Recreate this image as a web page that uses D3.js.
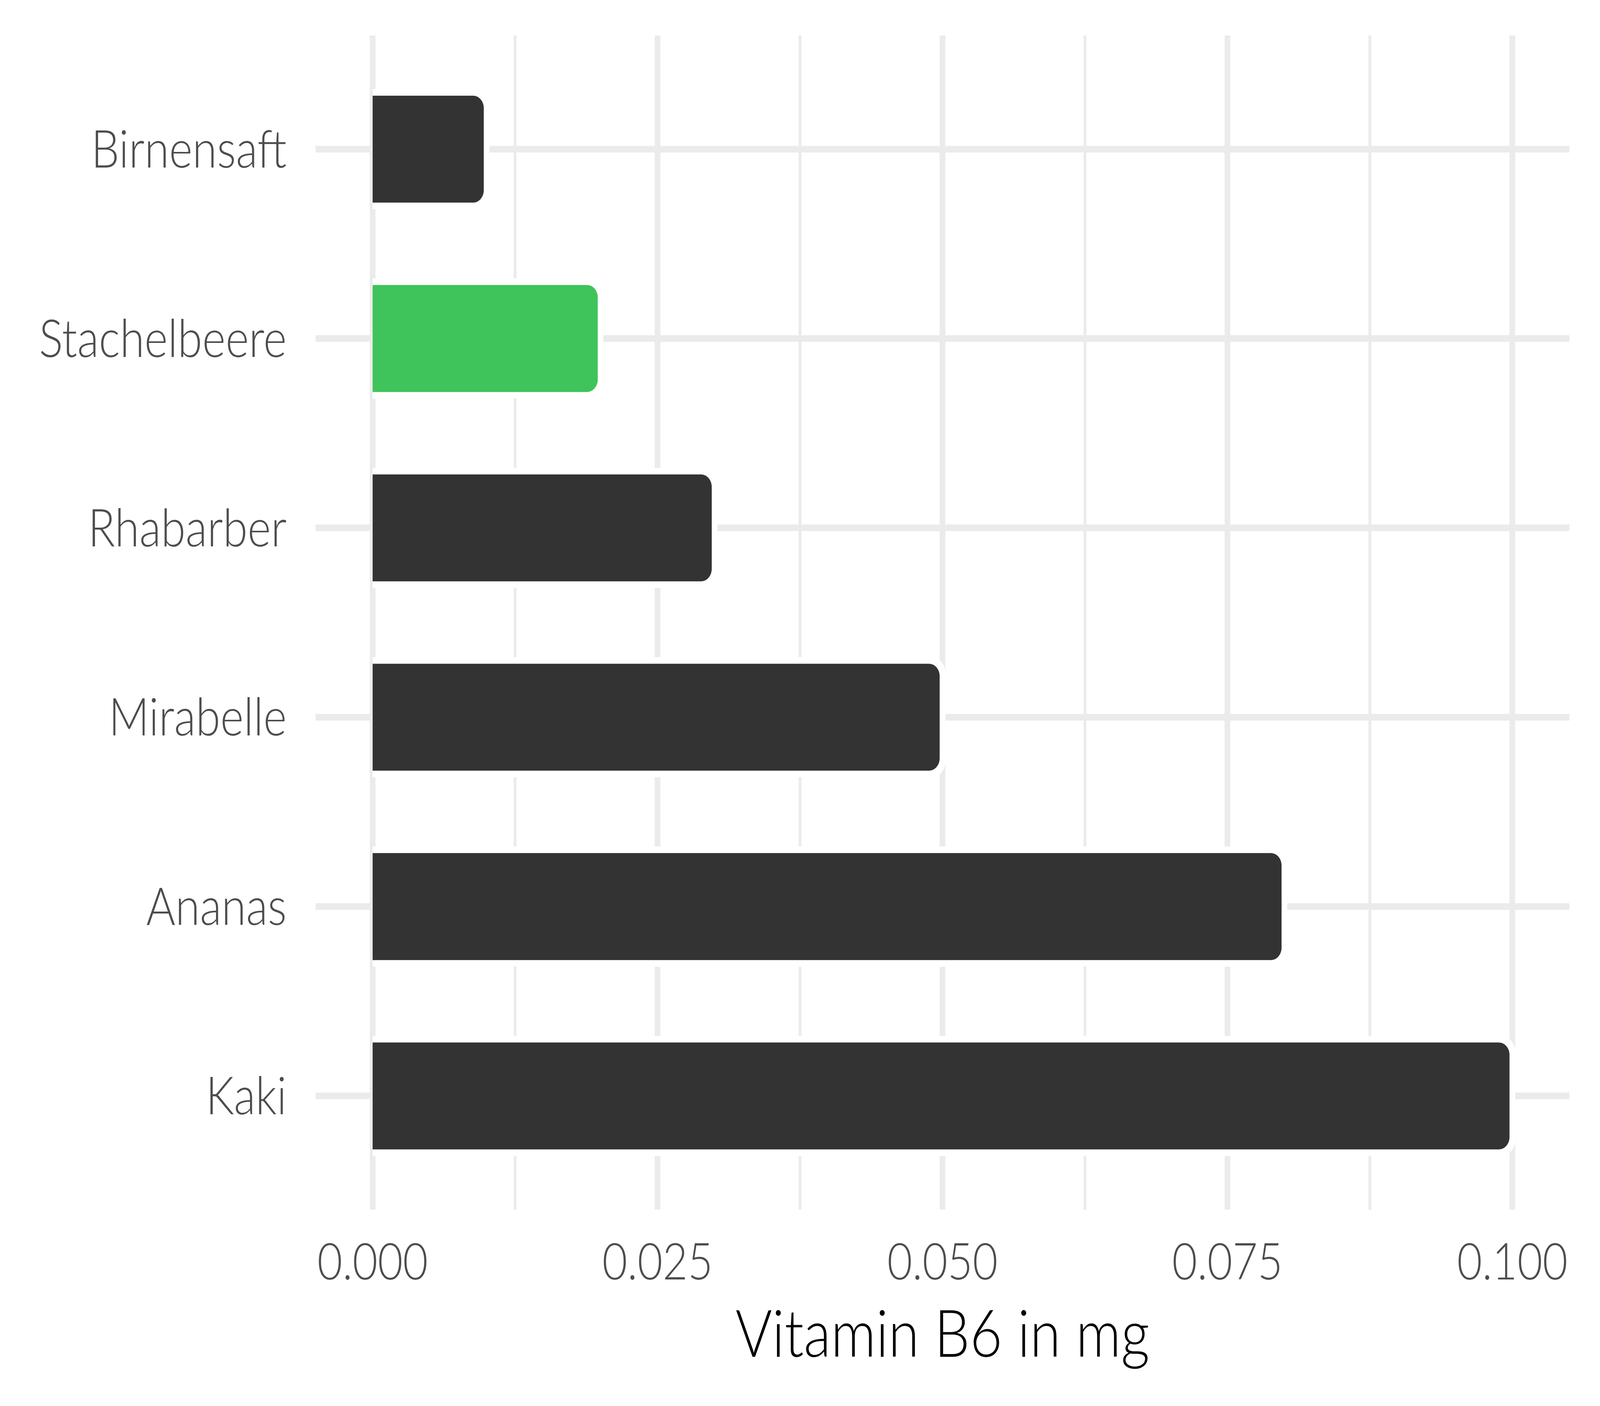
<!DOCTYPE html>
<html>
<head>
<meta charset="utf-8">
<script src="https://cdn.jsdelivr.net/npm/d3@7"></script>
<style>
  html, body { margin: 0; padding: 0; background: #fff; overflow: hidden; }
  svg { display: block; width: 100vw; height: 100vh; }
  text { font-family: Lato, "Open Sans", sans-serif; }
</style>
</head>
<body>
<svg id="chart" viewBox="0 0 4800 3600" preserveAspectRatio="none"></svg>
<script>
const categories = ["Birnensaft", "Stachelbeere", "Rhabarber", "Mirabelle", "Ananas", "Kaki"];
const values = [0.01, 0.02, 0.03, 0.05, 0.08, 0.10];
const highlight = ["Stachelbeere"];
const xTicks = [0, 0.025, 0.05, 0.075, 0.1];
const xTickLabels = ["0.000", "0.025", "0.050", "0.075", "0.100"];
const xMinorTicks = [0.0125, 0.0375, 0.0625, 0.0875];
const xTitle = "Vitamin B6 in mg";

const W = 4800, H = 3600;
const panel = { left: 947, right: 4708, top: 91, bottom: 3097 };
const svg = d3.select("#chart");

const x = d3.scaleLinear().domain([-0.005, 0.105]).range([panel.left, panel.right]);
const y = d3.scalePoint().domain(categories).range([panel.top, panel.bottom]).padding(0.6);
const barH = y.step() * 0.6;
const border = 17;

svg.append("rect").attr("width", W).attr("height", H).attr("fill", "#fff");

const grid = svg.append("g");
grid.selectAll("line.minor").data(xMinorTicks).join("line")
  .attr("x1", d => x(d)).attr("x2", d => x(d))
  .attr("y1", panel.top).attr("y2", panel.bottom)
  .attr("stroke", "#EBEBEB").attr("stroke-width", 8.5);
grid.selectAll("line.majx").data(xTicks).join("line")
  .attr("x1", d => x(d)).attr("x2", d => x(d))
  .attr("y1", panel.top).attr("y2", panel.bottom)
  .attr("stroke", "#EBEBEB").attr("stroke-width", 17);
grid.selectAll("line.majy").data(categories).join("line")
  .attr("x1", panel.left).attr("x2", panel.right)
  .attr("y1", d => y(d)).attr("y2", d => y(d))
  .attr("stroke", "#EBEBEB").attr("stroke-width", 17);

function barPath(x0, x1, yc, h, r) {
  const t = yc - h / 2, b = yc + h / 2;
  r = Math.min(r, (x1 - x0), h / 2);
  const k = 0.5523 * r;
  return `M${x0},${t} L${x1 - r},${t} C${x1 - r + k},${t} ${x1},${t + r - k} ${x1},${t + r} ` +
         `L${x1},${b - r} C${x1},${b - r + k} ${x1 - r + k},${b} ${x1 - r},${b} L${x0},${b} Z`;
}

const data = categories.map((c, i) => ({ c, v: values[i] }));
const bars = svg.append("g");
const half = border / 2;
bars.selectAll("path.halo").data(data).join("path")
  .attr("d", d => barPath(x(0), x(d.v) + half, y(d.c), barH + border, 32 + half))
  .attr("fill", "#fff");
bars.selectAll("path.bar").data(data).join("path")
  .attr("d", d => barPath(x(0), x(d.v) - half, y(d.c), barH - border, 32))
  .attr("fill", d => highlight.includes(d.c) ? "#3EC45A" : "#333333");

svg.append("g").selectAll("text").data(categories).join("text")
  .attr("x", 860).attr("y", d => y(d) + 47)
  .attr("text-anchor", "end")
  .attr("font-size", 134).attr("font-weight", 300)
  .attr("fill", "#4D4D4D")
  .text(d => d);

svg.append("g").selectAll("text").data(xTicks).join("text")
  .attr("x", d => x(d)).attr("y", 3276)
  .attr("text-anchor", "middle")
  .attr("font-size", 130).attr("font-weight", 300)
  .attr("fill", "#4D4D4D")
  .text((d, i) => xTickLabels[i]);

svg.append("text")
  .attr("x", (panel.left + panel.right) / 2).attr("y", 3474)
  .attr("text-anchor", "middle")
  .attr("font-size", 168).attr("font-weight", 300)
  .attr("fill", "#000")
  .text(xTitle);
</script>
</body>
</html>
